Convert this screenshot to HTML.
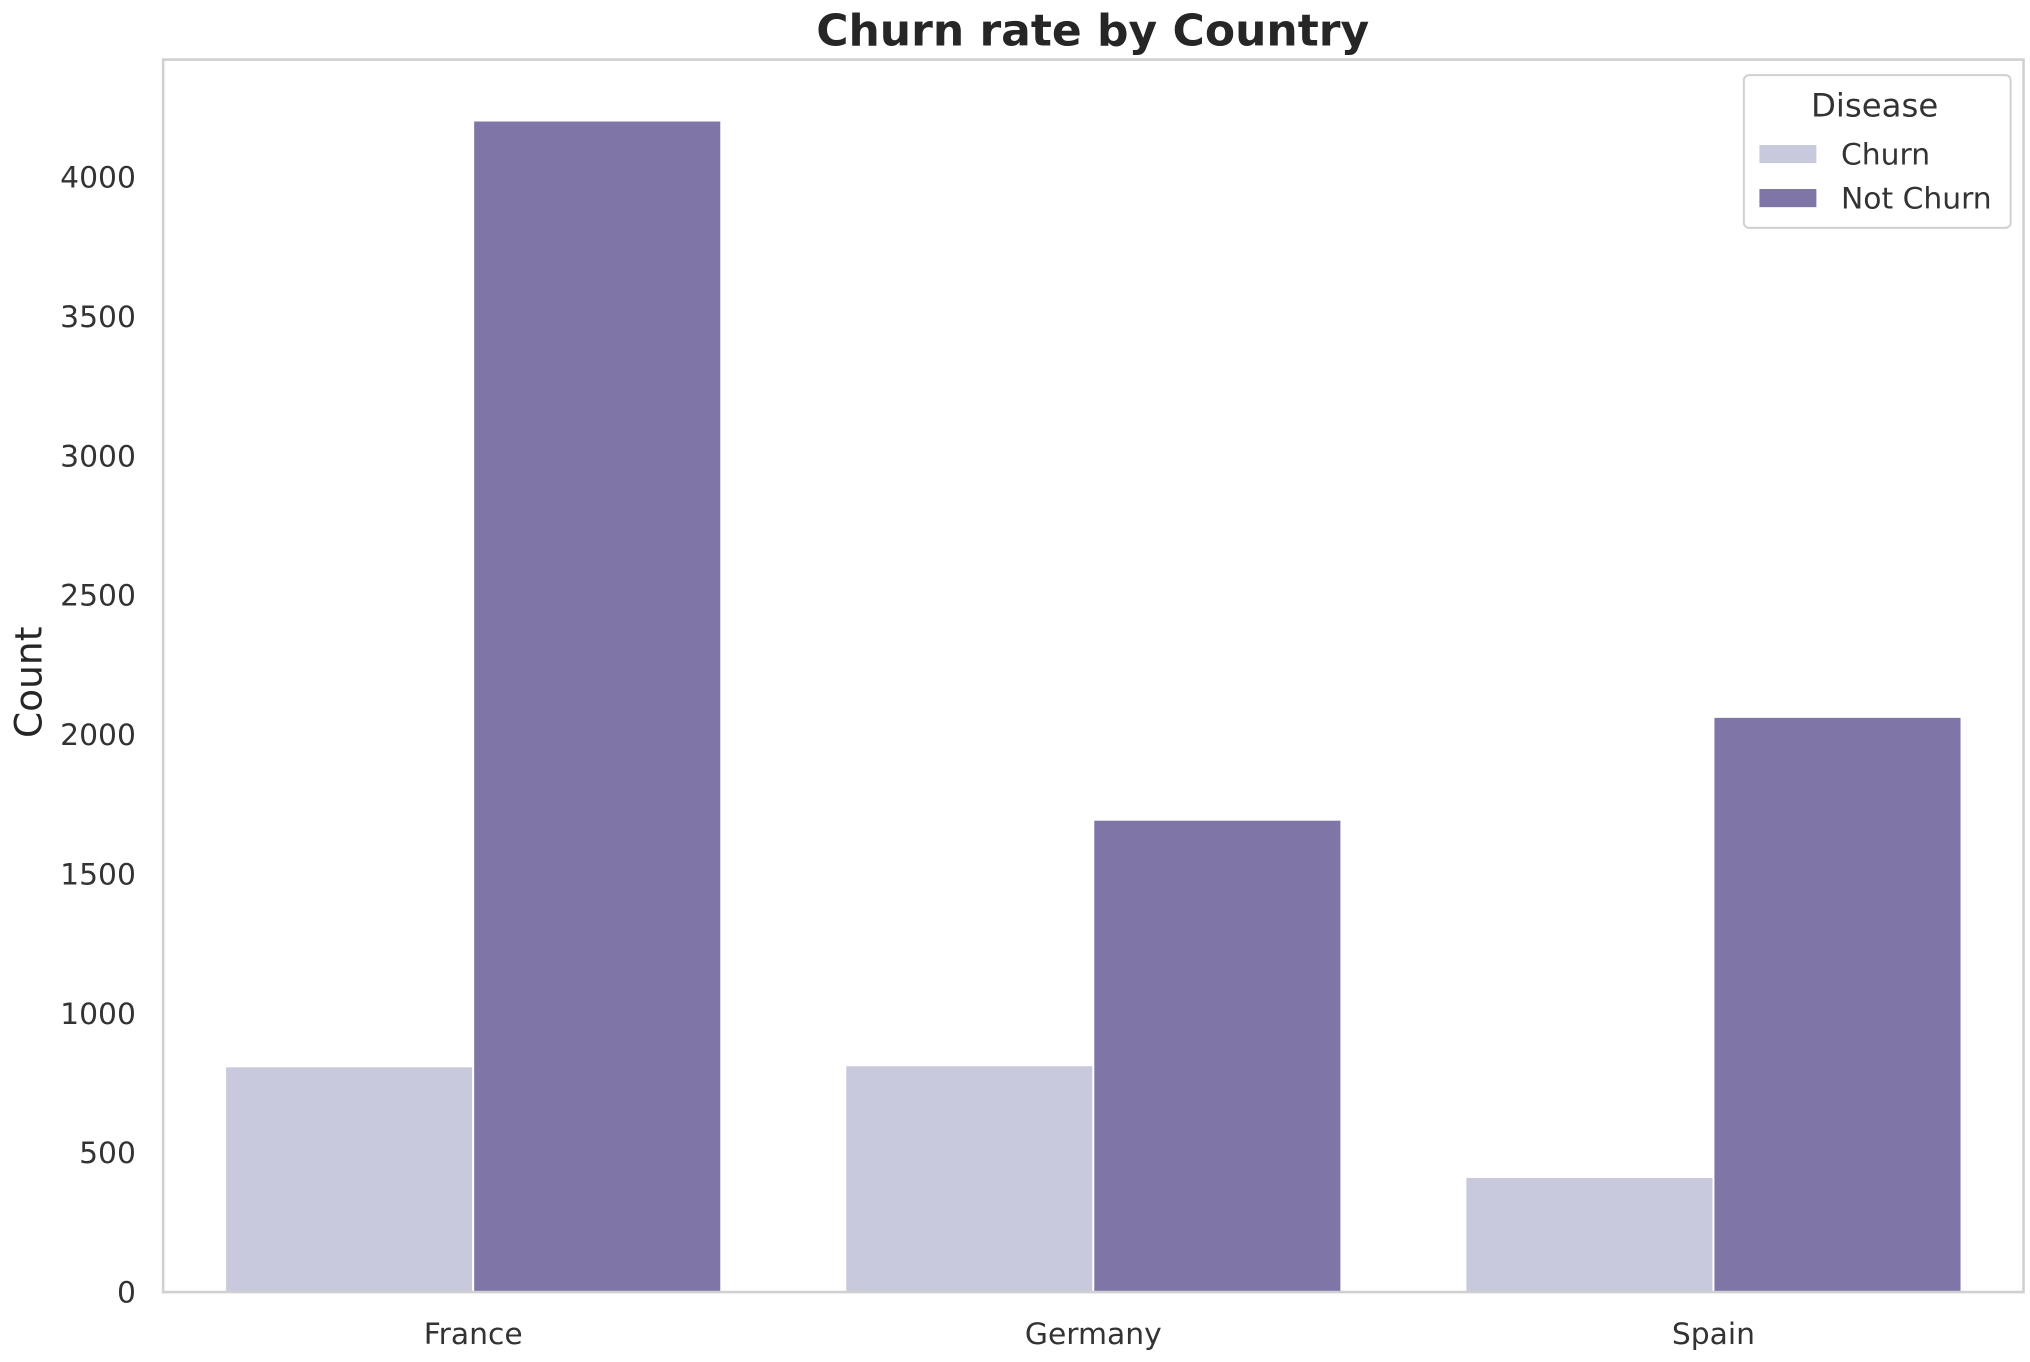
<!DOCTYPE html>
<html><head><meta charset="utf-8"><style>
html,body{margin:0;padding:0;background:#fff;}
svg{display:block;font-family:"DejaVu Sans","Liberation Sans",sans-serif;}
</style></head><body>
<svg id="chart" width="2030" height="1362" viewBox="0 0 1568 1052" xmlns="http://www.w3.org/2000/svg">
<rect width="1568" height="1052" fill="#fff"/>
<text x="844" y="35" text-anchor="middle" font-size="34" font-weight="bold" fill="#262626">Churn rate by Country</text>
<g id="bars"></g>
<g id="yticks"></g>
<g id="xticks"></g>
<rect x="126" y="46" width="1437" height="952" fill="none" stroke="#d0d0d0" stroke-width="2"/>
<text transform="translate(32,527) rotate(-90)" text-anchor="middle" font-size="29" fill="#262626">Count</text>
<g>
<rect x="1347" y="58" width="206" height="118" rx="4" fill="#fff" stroke="#d0d0d0" stroke-width="1.5"/>
<text x="1448" y="90" text-anchor="middle" font-size="25" fill="#333">Disease</text>
<rect x="1359" y="112" width="44" height="14" fill="#c8c9dd"/>
<text x="1422" y="127" font-size="23" fill="#333">Churn</text>
<rect x="1359" y="146" width="44" height="14" fill="#7f75a6"/>
<text x="1422" y="161" font-size="23" fill="#333">Not Churn</text>
</g>
</svg>
<script>
const categories = ["France", "Germany", "Spain"];
const churnValues = [810, 814, 413];
const notChurnValues = [4204, 1695, 2064];
const yTickValues = [0, 500, 1000, 1500, 2000, 2500, 3000, 3500, 4000];

const NS = "http://www.w3.org/2000/svg";
const plotL = 126, plotR = 1563, plotB = 998;
const yScale = v => plotB - v * (861 / 4000);
const step = (plotR - plotL) / categories.length;
const xCenter = i => plotL + step * (i + 0.5);
const barW = step * 0.8 / 2;

const bars = document.getElementById("bars");
const series = [{vals: churnValues, color: "#c8c9dd", name: "churn"}, {vals: notChurnValues, color: "#7f75a6", name: "not-churn"}];
series.forEach((s, si) => {
  categories.forEach((c, i) => {
    const r = document.createElementNS(NS, "rect");
    const x = xCenter(i) - barW + si * barW;
    const y = yScale(s.vals[i]);
    r.setAttribute("x", x);
    r.setAttribute("y", y);
    r.setAttribute("width", barW);
    r.setAttribute("height", plotB - y);
    r.setAttribute("fill", s.color);
    r.setAttribute("stroke", "#fff");
    r.setAttribute("stroke-width", "1.5");
    
    
    bars.appendChild(r);
  });
});

const yt = document.getElementById("yticks");
yTickValues.forEach(v => {
  const t = document.createElementNS(NS, "text");
  t.setAttribute("x", 105);
  t.setAttribute("y", yScale(v) + 8);
  t.setAttribute("text-anchor", "end");
  t.setAttribute("font-size", "23");
  t.setAttribute("fill", "#333");
  t.textContent = v;
  
  
  yt.appendChild(t);
});

const xt = document.getElementById("xticks");
categories.forEach((c, i) => {
  const t = document.createElementNS(NS, "text");
  t.setAttribute("x", xCenter(i));
  t.setAttribute("y", 1038);
  t.setAttribute("text-anchor", "middle");
  t.setAttribute("font-size", "23");
  t.setAttribute("fill", "#333");
  t.textContent = c;
  
  
  xt.appendChild(t);
});
</script>
</body></html>
